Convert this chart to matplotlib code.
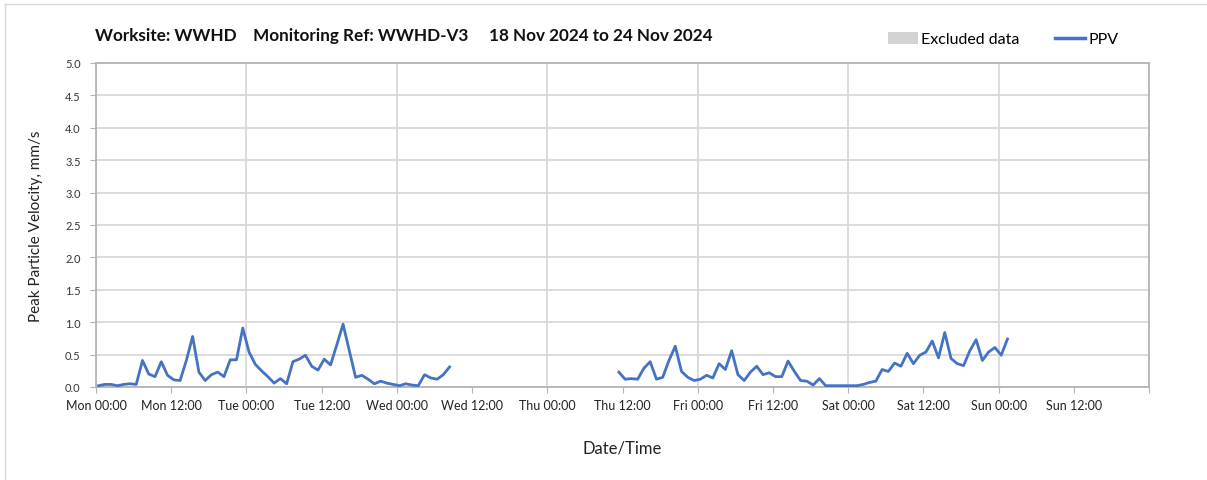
import numpy as np
import pandas as pd
import matplotlib
matplotlib.use("Agg")
import matplotlib.pyplot as plt
import matplotlib.dates as mdates
from matplotlib.patches import Patch
from matplotlib.lines import Line2D

plt.rcParams['font.family'] = ['Lato', 'DejaVu Sans']

# hourly PPV readings, mm/s (first reading Mon 18 Nov 00:25)
start_time = "2024-11-18 00:25"
seg_mon_wed = [0.02, 0.04, 0.04, 0.02, 0.04, 0.05, 0.04, 0.41, 0.20, 0.16,
               0.39, 0.18, 0.11, 0.10, 0.41, 0.78, 0.23, 0.10, 0.19, 0.23,
               0.16, 0.42, 0.42, 0.91, 0.54, 0.35, 0.25, 0.16, 0.06, 0.13,
               0.05, 0.39, 0.43, 0.49, 0.32, 0.26, 0.43, 0.34, 0.65, 0.97,
               0.56, 0.15, 0.18, 0.12, 0.05, 0.09, 0.06, 0.04, 0.02, 0.05,
               0.03, 0.02, 0.19, 0.14, 0.12, 0.19, 0.31]
n_missing = 26
seg_thu_sun = [0.23, 0.12, 0.13, 0.12, 0.29, 0.39, 0.12, 0.15, 0.41, 0.63,
               0.24, 0.15, 0.10, 0.12, 0.18, 0.14, 0.36, 0.27, 0.56, 0.19,
               0.10, 0.23, 0.32, 0.19, 0.22, 0.16, 0.16, 0.40, 0.24, 0.10,
               0.09, 0.03, 0.13, 0.02, 0.02, 0.02, 0.02, 0.02, 0.02, 0.04,
               0.07, 0.09, 0.27, 0.24, 0.37, 0.32, 0.52, 0.36, 0.49, 0.54,
               0.71, 0.45, 0.84, 0.44, 0.36, 0.33, 0.56, 0.73, 0.41, 0.54,
               0.61, 0.49, 0.74]

ppv = seg_mon_wed + [np.nan] * n_missing + seg_thu_sun
times = pd.date_range(start_time, periods=len(ppv), freq="h")

title = "Worksite: WWHD    Monitoring Ref: WWHD-V3     18 Nov 2024 to 24 Nov 2024"
x_start = pd.Timestamp("2024-11-18 00:00")
x_end = pd.Timestamp("2024-11-25 00:00")

blue = "#4472C4"
spine_col = "#B4B4B4"
grid_col = "#D9D9D9"

fig = plt.figure(figsize=(12.07, 4.81), dpi=100)
ax = fig.add_axes([96 / 1207, 1 - 388 / 481, (1149 - 96) / 1207, (388 - 64) / 481])

ax.plot(times, ppv, color=blue, lw=2.0, zorder=3)

ax.set_xlim(x_start, x_end)
ax.set_ylim(0, 5.0)
ax.set_yticks(np.arange(0, 5.01, 0.5))
ax.yaxis.set_major_formatter(matplotlib.ticker.FormatStrFormatter('%.1f'))

ax.xaxis.remove_overlapping_locs = False
ax.xaxis.set_major_locator(mdates.HourLocator(byhour=[0, 12]))
ax.xaxis.set_minor_locator(mdates.DayLocator())
ax.grid(axis='y', color=grid_col, lw=1.3, zorder=0)
ax.grid(axis='x', which='minor', color=grid_col, lw=1.3, zorder=0)

# no label for the Mon 00:00 at the right edge
ax.xaxis.set_major_formatter(matplotlib.ticker.FuncFormatter(
    lambda v, p: '' if mdates.num2date(v).replace(tzinfo=None) >= x_end.to_pydatetime()
    else mdates.num2date(v).strftime('%a %H:%M')))

for s in ax.spines.values():
    s.set_color(spine_col)
    s.set_linewidth(1.3)

ax.tick_params(axis='y', which='major', length=4, color=spine_col, labelsize=8,
               labelcolor="#333333", pad=7)
ax.tick_params(axis='x', which='major', length=4, color=spine_col, labelsize=9,
               labelcolor="#222222", pad=5)
ax.tick_params(axis='x', which='minor', length=0)

ax.set_ylabel("Peak Particle Velocity, mm/s", fontsize=11, color="#222222", labelpad=16)
ax.set_xlabel("Date/Time", fontsize=12, color="#222222", labelpad=20)

fig.text(95 / 1207, 1 - 36 / 481, title, fontsize=12.3, fontweight='bold',
         va='center', ha='left', color="#111111")

handles = [Patch(facecolor="#D3D3D3", edgecolor='none'),
           Line2D([0], [0], color=blue, lw=2.5)]
fig.legend(handles, ["Excluded data", "PPV"], ncol=2, frameon=False,
           loc='center', bbox_to_anchor=(1003 / 1207, 1 - 40 / 481),
           fontsize=11.5, handlelength=1.9, handletextpad=0.2, columnspacing=2.2,
           handleheight=0.8)

# light frame around the chart
fig.add_artist(Line2D([5 / 1207, 5 / 1207], [0, 1 - 5 / 481], color="#D9D9D9", lw=1))
fig.add_artist(Line2D([5 / 1207, 1], [1 - 5 / 481, 1 - 5 / 481], color="#D9D9D9", lw=1))

fig.savefig("out.png", dpi=100)
